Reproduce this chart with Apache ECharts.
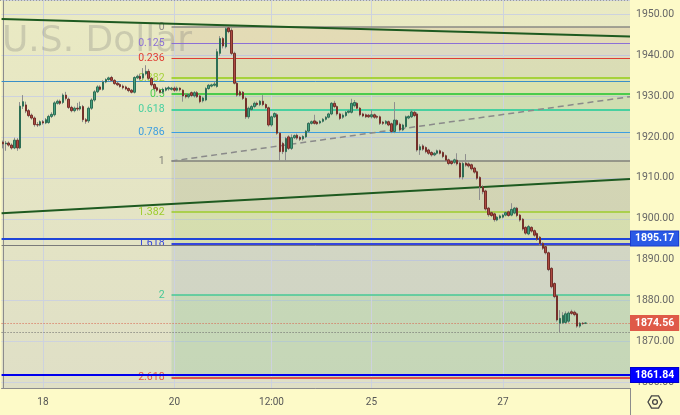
<!DOCTYPE html>
<html><head><meta charset="utf-8">
<script src="https://cdn.jsdelivr.net/npm/echarts/dist/echarts.min.js"></script>
<style>html,body{margin:0;padding:0;background:#fdfac8}#c{width:680px;height:415px}</style>
</head><body><div id="c"></div>
<script>
// ---------- data ----------
const categoryCount = 220;
const timeLabels = ['18', '20', '12:00', '25', '27'];
const timeLabelIndex = [14, 60, 94, 129, 175];

// each candle: [open, close, low, high]
const candlesA = [
[1918.7,1918.3,1917.2,1919.1],[1918.3,1918.5,1916.6,1919.0],[1918.5,1918.0,1917.6,1918.9],[1918.0,1917.3,1916.9,1918.4],
[1917.3,1919.2,1917.0,1919.8],[1919.2,1917.3,1916.6,1919.7],[1917.3,1927.5,1917.0,1928.5],[1927.5,1928.6,1926.8,1930.2],
[1927.8,1926.3,1925.8,1928.6],[1926.4,1925.2,1924.8,1926.8],[1925.3,1924.6,1924.2,1925.7],[1924.6,1923.0,1922.5,1925.0],
[1923.0,1922.9,1922.4,1923.6],[1922.9,1923.7,1922.6,1924.0],[1923.7,1923.4,1923.0,1924.1],[1923.4,1924.2,1923.1,1924.6],
[1923.5,1925.0,1923.2,1925.4],[1925.0,1925.5,1924.6,1926.0],[1925.4,1928.3,1925.0,1928.7],[1928.2,1928.7,1927.9,1929.1],
[1928.7,1928.2,1927.8,1929.1],[1928.4,1930.2,1928.0,1930.6],[1930.2,1929.4,1928.9,1931.0],[1929.2,1927.2,1926.8,1929.6],
[1927.2,1926.4,1926.0,1927.6],[1926.4,1927.0,1926.0,1927.4],[1927.0,1926.8,1926.3,1928.3],[1926.8,1927.4,1926.4,1928.6],
[1927.4,1924.2,1923.6,1927.8],[1924.2,1923.8,1923.2,1924.6],[1923.9,1927.0,1923.4,1927.4],[1927.0,1929.0,1926.6,1929.4],
[1929.0,1931.0,1928.6,1931.4],[1931.0,1932.2,1930.7,1932.6],[1932.2,1931.6,1931.3,1932.6],[1931.6,1933.4,1931.3,1933.8],
[1933.4,1934.0,1933.1,1934.3],[1934.0,1934.4,1933.7,1934.7],[1934.5,1933.8,1933.4,1934.9],[1933.8,1933.0,1932.7,1934.1],
[1933.1,1932.7,1932.4,1933.5],[1932.8,1932.3,1932.0,1933.1],[1932.4,1932.0,1931.6,1932.8],[1932.2,1931.7,1931.4,1932.5],
[1931.8,1931.3,1930.9,1932.1],[1931.4,1930.9,1930.6,1931.7],[1930.9,1934.5,1930.6,1934.8],[1934.4,1934.8,1934.1,1935.2],
[1934.8,1934.2,1933.8,1935.4],[1934.4,1935.4,1934.0,1936.8],[1935.4,1936.0,1935.0,1937.5],[1936.0,1934.3,1933.9,1936.6],
[1934.3,1932.7,1932.3,1934.6],[1932.8,1931.8,1931.4,1933.1],[1932.0,1931.4,1931.0,1932.3],[1931.4,1930.9,1930.6,1931.8],
[1930.9,1931.6,1930.5,1932.0],[1931.4,1931.9,1931.1,1932.2],[1931.7,1932.0,1931.3,1932.4],[1931.6,1931.9,1931.3,1932.2]
];
const candlesB = [
[1931.9,1931.4,1931.0,1932.3],[1931.4,1931.9,1931.1,1932.3],[1931.9,1931.5,1931.1,1932.1],[1931.4,1930.0,1928.6,1931.6],
[1930.2,1929.8,1929.4,1930.6],[1929.8,1930.3,1929.4,1930.7],[1930.8,1930.1,1929.7,1931.1],[1930.0,1930.8,1929.6,1931.2],
[1930.8,1929.8,1929.5,1931.2],[1930.0,1928.6,1928.2,1930.4],[1928.8,1929.5,1928.4,1929.8],[1929.0,1931.8,1928.7,1932.1],
[1931.8,1932.6,1931.5,1932.9],[1932.4,1932.7,1932.1,1933.0],[1932.6,1932.9,1932.3,1933.5],[1932.3,1940.8,1932.0,1941.5],
[1940.4,1944.0,1939.8,1944.6],[1944.0,1942.2,1941.6,1944.4],[1942.0,1946.4,1941.6,1946.8],[1946.6,1945.7,1945.3,1946.83],
[1946.0,1940.4,1940.0,1946.5],[1940.4,1933.1,1932.8,1940.8],[1933.1,1930.2,1929.8,1933.5],[1931.0,1930.2,1929.9,1931.4],
[1930.9,1929.4,1929.0,1931.2],[1929.4,1924.9,1924.4,1929.8],[1924.9,1927.0,1924.4,1927.4],[1926.7,1927.4,1926.3,1927.8],
[1927.4,1928.2,1927.0,1928.6],[1928.2,1927.9,1927.5,1928.6],[1927.9,1928.7,1927.5,1929.0],[1928.7,1927.9,1927.5,1930.2],
[1927.9,1927.1,1926.7,1928.2],[1927.1,1922.9,1922.5,1927.4],[1922.9,1924.9,1922.5,1925.2],[1924.9,1925.7,1924.6,1926.0],
[1925.4,1920.9,1920.5,1925.8],[1920.9,1916.4,1914.11,1921.2],[1918.4,1916.4,1915.8,1918.8],[1916.4,1919.6,1914.2,1920.0],
[1920.0,1917.2,1916.8,1920.4],[1917.2,1919.8,1916.8,1920.6],[1919.8,1920.3,1919.5,1920.6],[1920.4,1919.7,1919.3,1920.8],
[1919.9,1919.4,1919.0,1920.2],[1919.5,1920.1,1919.1,1920.4],[1920.0,1921.4,1919.7,1921.7],[1921.4,1923.3,1921.1,1923.6],
[1923.3,1923.7,1923.0,1924.0],[1923.9,1923.3,1923.0,1925.4],[1923.6,1923.2,1922.9,1923.9],[1923.4,1923.8,1923.1,1924.1],
[1923.8,1924.3,1923.5,1924.6],[1924.3,1924.8,1924.0,1925.1],[1924.8,1925.6,1924.5,1925.9],[1925.6,1928.2,1925.3,1928.5]
];
const candlesC = [
[1928.2,1927.4,1927.0,1928.8],[1927.4,1925.6,1925.2,1927.7],[1925.6,1924.5,1924.1,1925.9],[1924.8,1925.3,1924.4,1925.7],
[1925.2,1926.0,1924.9,1926.3],[1926.0,1926.3,1925.7,1926.6],[1926.0,1928.2,1925.7,1929.3],[1927.6,1928.4,1927.2,1929.0],
[1928.2,1927.0,1926.7,1928.5],[1927.0,1925.4,1925.0,1927.3],[1925.6,1925.1,1924.8,1925.9],[1925.4,1924.9,1924.6,1925.7],
[1925.3,1924.9,1924.6,1925.6],[1924.9,1925.4,1924.5,1926.6],[1925.4,1924.8,1924.4,1925.7],[1925.0,1924.8,1924.4,1925.3],
[1924.9,1923.3,1922.9,1925.2],[1923.6,1923.3,1922.9,1923.9],[1923.3,1923.8,1923.0,1924.1],[1923.7,1922.9,1922.6,1924.0],
[1923.2,1921.3,1920.9,1923.5],[1921.3,1924.1,1920.9,1928.5],[1924.0,1923.0,1922.6,1924.3],[1923.1,1921.7,1921.3,1923.5],
[1921.7,1922.9,1921.4,1923.2],[1922.5,1924.9,1922.2,1925.2],[1924.6,1925.0,1924.3,1925.3],[1924.9,1926.1,1924.6,1926.6],
[1926.0,1925.2,1924.8,1926.4],[1925.6,1916.8,1916.4,1926.0],[1916.8,1917.6,1915.6,1918.2],[1917.8,1917.0,1916.6,1918.2],
[1917.4,1916.4,1916.0,1917.7],[1916.8,1916.0,1915.6,1917.1],[1916.2,1915.6,1915.2,1916.5],[1915.6,1916.0,1915.3,1916.3],
[1916.0,1916.6,1915.7,1916.9],[1916.6,1916.0,1915.7,1916.9],[1916.2,1915.2,1914.8,1916.5],[1915.4,1914.3,1913.9,1915.7],
[1914.4,1913.5,1913.1,1914.7],[1914.0,1913.5,1913.1,1914.3],[1913.8,1914.4,1913.4,1914.7],[1914.3,1913.4,1913.0,1916.0]
];
const candlesD = [
[1913.6,1910.2,1909.8,1913.9],[1910.2,1913.5,1909.6,1914.0],[1913.6,1913.1,1912.7,1915.8],[1913.4,1912.9,1912.5,1913.8],
[1913.2,1912.2,1911.8,1913.5],[1912.4,1911.4,1911.0,1912.7],[1911.5,1909.9,1909.5,1911.8],[1910.1,1907.8,1904.6,1910.4],
[1907.8,1906.6,1906.0,1908.2],[1906.8,1902.4,1902.0,1907.1],[1902.6,1901.0,1900.5,1902.9],[1901.5,1900.8,1900.4,1901.8],
[1901.2,1899.8,1899.3,1901.5],[1899.7,1900.4,1899.4,1900.7],[1900.2,1900.7,1899.9,1901.0],[1900.4,1900.9,1900.1,1901.2],
[1900.9,1901.5,1900.6,1901.8],[1901.7,1900.8,1900.5,1902.0],[1900.9,1902.3,1900.6,1903.8],[1901.4,1902.6,1901.1,1902.9],
[1902.6,1900.8,1900.4,1902.9],[1900.9,1899.7,1899.3,1901.2],[1899.9,1897.5,1897.1,1900.2],[1897.9,1896.5,1896.1,1898.2],
[1896.3,1898.1,1896.0,1898.5],[1897.9,1897.0,1896.6,1898.2],[1897.1,1896.0,1895.6,1897.4],[1896.4,1895.0,1894.6,1896.7],
[1895.5,1893.9,1893.5,1895.8],[1894.0,1892.8,1892.4,1894.3],[1893.2,1891.7,1891.3,1893.5],[1891.7,1887.6,1887.2,1892.0],
[1887.9,1883.4,1883.0,1888.2],[1884.2,1881.0,1880.6,1884.5],[1881.2,1875.3,1874.9,1881.5],[1874.5,1875.7,1872.2,1877.7],
[1874.6,1876.4,1874.3,1877.2],[1874.7,1876.8,1874.3,1877.4],[1875.0,1877.0,1874.6,1877.4],[1877.3,1876.9,1876.5,1877.8],
[1877.2,1876.6,1876.2,1877.6],[1876.8,1873.8,1873.4,1877.1],[1873.8,1874.5,1873.4,1874.8],[1874.5,1874.4,1874.1,1874.8],
[1874.5,1874.56,1874.3,1874.7]
];

const fibLevels = [0, 0.125, 0.236, 0.382, 0.5, 0.618, 0.786, 1, 1.382, 1.618, 2, 2.618];
const fibHigh = 1946.83;
const fibLow = 1914.11;
const fibStartIndex = 59;
const bluePriceLines = [1895.17, 1861.84];
const lastPrice = 1874.56;
const prevPrice = 1872.29;
const thinBlueLine = 1933.64;
const thinGrayLine = 1893.43;
const trendUpper = [[-0.5, 1948.78], [219.5, 1944.51]];
const trendLower = [[-0.5, 1901.34], [219.5, 1909.72]];
const fibDiagonal = [[59, 1914.11], [219.5, 1929.81]];
const priceMin = 1858.69, priceMax = 1953.42;

// ---------- styles ----------
const fibColors = ['#8a8a84','#8b6fd6','#e03c32','#a6d23c','#4ccc4c','#48d0a0','#3d9ee0','#80807a','#9ccc2c','#3344dd','#46c896','#e0554a'];
const fibWidths = [1.5,1,1,2,2,2,1,1.5,1.5,2,1.5,2];
const bandColors = ['rgba(200,150,110,0.16)','rgba(140,120,190,0.13)','rgba(150,170,110,0.16)','rgba(150,200,60,0.16)',
  'rgba(80,170,80,0.16)','rgba(40,160,130,0.14)','rgba(90,140,170,0.14)','rgba(120,130,100,0.16)',
  'rgba(140,190,60,0.16)','rgba(90,120,190,0.12)','rgba(60,170,110,0.16)'];
const gridColor = '#cdd2de';
const font = 'Roboto';

// ---------- build ----------
const candles = candlesA.concat(candlesB, candlesC, candlesD);
const categories = Array.from({length: categoryCount}, (_, i) => {
  const k = timeLabelIndex.indexOf(i); return k >= 0 ? timeLabels[k] : '';
});
const bodies = candles.map(d => [d[0], d[1], Math.min(d[0], d[1]), Math.max(d[0], d[1])]);
const fibPrice = l => fibHigh - l * (fibHigh - fibLow);
const xEnd = categoryCount - 0.5;

const bandData = [];
for (let i = 0; i < fibLevels.length - 1; i++) {
  bandData.push([{coord: [fibStartIndex, fibPrice(fibLevels[i])], itemStyle: {color: bandColors[i]}},
                 {coord: [xEnd, fibPrice(fibLevels[i + 1])]}]);
}
const fibLineData = fibLevels.map((l, i) => [
  {coord: [fibStartIndex, fibPrice(l)], lineStyle: {color: fibColors[i], width: fibWidths[i], type: 'solid'},
   label: {show: true, position: 'start', distance: 7, formatter: String(l), color: fibColors[i], fontSize: 10.5, fontFamily: font}},
  {coord: [xEnd, fibPrice(l)]}
]);

function boxLabel(bg, border) {
  return {show: true, position: 'end', distance: 1, formatter: p => p.value.toFixed(2), color: '#fff',
    backgroundColor: bg, borderColor: border, borderWidth: 1, padding: [2, 4, 1, 4],
    fontSize: 10.5, fontWeight: 'bold', fontFamily: font};
}

const chart = echarts.init(document.getElementById('c'), null, {renderer: 'canvas'});
chart.setOption({
  animation: false,
  backgroundColor: '#fdfac8',
  grid: {left: 0, right: 50, top: 0, bottom: 27, show: true, borderWidth: 0,
    backgroundColor: {type: 'linear', x: 0, y: 0, x2: 0, y2: 1,
      colorStops: [{offset: 0, color: '#eaeac3'}, {offset: 1, color: '#dfdfc6'}]}},
  xAxis: [
    {type: 'category', data: categories, boundaryGap: true,
     axisLine: {show: true, lineStyle: {color: '#8c8c8c'}}, axisTick: {show: false},
     axisLabel: {interval: 0, color: '#555', fontSize: 10, margin: 9, fontFamily: font},
     splitLine: {show: false}},
    {type: 'value', min: -0.5, max: xEnd, show: false}
  ],
  yAxis: {type: 'value', position: 'right', min: priceMin, max: priceMax, splitNumber: 10,
    axisLine: {show: true, lineStyle: {color: '#8c8c8c'}}, axisTick: {show: false},
    axisLabel: {color: '#666', fontSize: 10.5, margin: 6, fontFamily: font,
      formatter: v => v.toFixed(2), showMinLabel: false, showMaxLabel: false},
    splitLine: {show: true, lineStyle: {color: gridColor, width: 1}}},
  graphic: [
    {type: 'text', left: 2, top: 24, z: 3, silent: true,
     style: {text: 'U.S. Dollar', font: '36px "DejaVu Sans"', fill: 'rgba(120,120,120,0.27)'}},
    {type: 'line', z: 10, shape: {x1: 0, y1: 0.5, x2: 630, y2: 0.5}, style: {stroke: '#9a9a9a', lineWidth: 1, lineDash: [1, 2]}},
    {type: 'line', z: 10, shape: {x1: 630.5, y1: 388, x2: 630.5, y2: 415}, style: {stroke: '#8c8c8c', lineWidth: 1}},
    {type: 'polygon', z: 10, shape: {points: [[662,402],[658.5,408.1],[651.5,408.1],[648,402],[651.5,395.9],[658.5,395.9]]},
     style: {fill: 'none', stroke: '#444', lineWidth: 1.3}},
    {type: 'circle', z: 10, shape: {cx: 655, cy: 402, r: 2.4}, style: {fill: 'none', stroke: '#444', lineWidth: 1.3}}
  ],
  series: [
    {type: 'line', xAxisIndex: 1, data: [], clip: false, z: 1, silent: true,
     markArea: {silent: true, z: 1, data: bandData}},
    {type: 'line', xAxisIndex: 1, data: [], clip: false, z: 2, silent: true,
     markLine: {silent: true, z: 2, symbol: ['none', 'none'], label: {show: false},
       lineStyle: {color: gridColor, width: 1, type: 'solid'},
       data: timeLabelIndex.map(i => ({xAxis: i}))}},
    {type: 'line', xAxisIndex: 1, data: [], clip: false, z: 4, silent: true,
     markLine: {silent: true, z: 4, symbol: ['none', 'none'], data: fibLineData}},
    {type: 'line', xAxisIndex: 1, data: [], clip: false, z: 5, silent: true,
     markLine: {silent: true, z: 5, symbol: ['none', 'none'], label: {show: false},
       data: [
         {yAxis: thinBlueLine, lineStyle: {color: '#3a8fc8', width: 1, type: 'solid'}},
         {yAxis: thinGrayLine, lineStyle: {color: '#7a7a7a', width: 1, type: 'solid'}},
         {yAxis: prevPrice, lineStyle: {color: '#6a6a6a', width: 1, type: [1, 2]}},
         {yAxis: lastPrice, lineStyle: {color: '#d9604c', width: 1, type: [1, 2]}, label: boxLabel('#df5a48', '#df5a48')},
         {yAxis: bluePriceLines[0], lineStyle: {color: '#1f45d8', width: 2, type: 'solid'}, label: boxLabel('#2a5ae6', '#1a3acc')},
         {yAxis: bluePriceLines[1], lineStyle: {color: '#0000ee', width: 2, type: 'solid'}, label: boxLabel('#0000ff', '#0000cc')}
       ]}},
    {type: 'line', xAxisIndex: 1, data: trendUpper, clip: false, z: 6, silent: true, showSymbol: false,
     lineStyle: {color: '#1e5a20', width: 2}},
    {type: 'line', xAxisIndex: 1, data: trendLower, clip: false, z: 6, silent: true, showSymbol: false,
     lineStyle: {color: '#1e5a20', width: 2}},
    {type: 'line', xAxisIndex: 1, data: fibDiagonal, clip: false, z: 6, silent: true, showSymbol: false,
     lineStyle: {color: '#8a8a8a', width: 1.5, type: [6, 4]}},
    {type: 'candlestick', xAxisIndex: 0, data: candles, z: 8, barWidth: 1, silent: true,
     itemStyle: {color: '#8e8e8e', color0: '#8e8e8e', borderColor: '#8e8e8e', borderColor0: '#8e8e8e', borderWidth: 1}},
    {type: 'candlestick', xAxisIndex: 0, data: bodies, z: 9, barWidth: 2, silent: true,
     itemStyle: {color: '#47a07f', color0: '#ad4a41', borderColor: '#2d6e55', borderColor0: '#74302a', borderWidth: 1}}
  ]
});
</script>
</body></html>
